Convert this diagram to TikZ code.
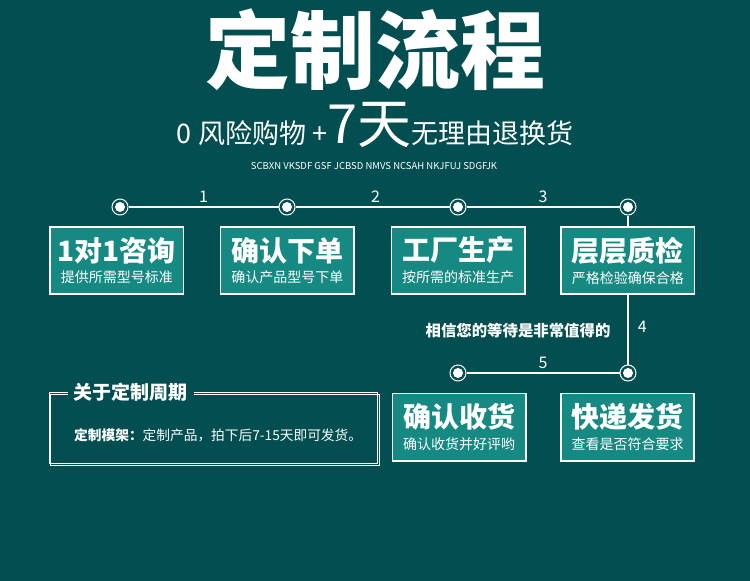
\documentclass[tikz,border=0pt]{standalone}
\usepackage{fontspec}
\newfontfamily\cjk{Noto Sans CJK SC}
\usetikzlibrary{positioning}
\definecolor{bgteal}{RGB}{3,78,80}
\definecolor{boxteal}{RGB}{22,137,130}
\tikzset{
  station/.style={circle,draw=white,line width=1pt,minimum size=16pt,inner sep=0pt,
    path picture={\fill[white] (path picture bounding box.center) circle (5pt);}},
  stepbox/.style={rectangle,fill=boxteal,draw=white,line width=1.6pt,
    minimum width=133.4pt,minimum height=67.4pt,align=center,text=white},
  num/.style={font=\cjk\fontsize{16}{16}\selectfont,text=white,inner sep=0pt},
  track/.style={white,line width=1.5pt}
}
\begin{document}
\begin{tikzpicture}[x=1pt,y=-1pt,font=\cjk]
    \useasboundingbox[fill=bgteal] (0,0) rectangle (750,581);
    % heading
    \node[text=white,font=\cjk\bfseries\fontsize{85}{85}\selectfont] (title) at (375,50) {定制流程};
    \node[text=white,anchor=base,inner sep=0pt] (slogan) at (375,143)
        {{\fontsize{27}{27}\selectfont 0 风险购物 +}{\fontsize{54}{54}\selectfont 7天}{\fontsize{27}{27}\selectfont 无理由退换货}};
    \node[text=white,font=\cjk\fontsize{9.5}{9.5}\selectfont] (tag) at (374,166) {SCBXN VKSDF GSF JCBSD NMVS NCSAH NKJFUJ SDGFJK};
    % stations
    \node[station] (d1) at (120,207) {};
    \node[station] (d2) at (287,207) {};
    \node[station] (d3) at (458,207) {};
    \node[station] (d4) at (628,207) {};
    \node[station] (d5) at (458,373) {};
    \node[station] (d6) at (628,373) {};
    \draw[track] (d1) to node[num,above=4pt]{1} (d2);
    \draw[track] (d2) to node[num,above=4pt,pos=.52]{2} (d3);
    \draw[track] (d3) to node[num,above=4pt]{3} (d4);
    \draw[track] (d4) to node[num,right=9pt,pos=.75]{4} (d6);
    \draw[track] (d5) to node[num,above=4pt]{5} (d6);
    % steps
    \node[stepbox] (s1) at (116.8,260.5) {{\fontsize{28}{28}\selectfont\bfseries 1对1咨询}\\[6pt]{\fontsize{14}{14}\selectfont 提供所需型号标准}};
    \node[stepbox] (s2) at (287.3,260.5) {{\fontsize{28}{28}\selectfont\bfseries 确认下单}\\[6pt]{\fontsize{14}{14}\selectfont 确认产品型号下单}};
    \node[stepbox] (s3) at (458.2,260.5) {{\fontsize{28}{28}\selectfont\bfseries 工厂生产}\\[6pt]{\fontsize{14}{14}\selectfont 按所需的标准生产}};
    \node[stepbox] (s4) at (627.8,260.5) {{\fontsize{28}{28}\selectfont\bfseries 层层质检}\\[6pt]{\fontsize{14}{14}\selectfont 严格检验确保合格}};
    \node[stepbox] (s5) at (459.2,427.2) {{\fontsize{28}{28}\selectfont\bfseries 确认收货}\\[6pt]{\fontsize{14}{14}\selectfont 确认收货并好评哟}};
    \node[stepbox] (s6) at (627.5,427.2) {{\fontsize{28}{28}\selectfont\bfseries 快递发货}\\[6pt]{\fontsize{14}{14}\selectfont 查看是否符合要求}};
    \node[text=white,font=\cjk\bfseries\fontsize{15.4}{15.4}\selectfont] (wait) at (518,331) {相信您的等待是非常值得的};
    % cycle note
    \node[draw=white,line width=.8pt,minimum width=328pt,minimum height=71pt] (info) at (213.5,428.3) {};
    \draw[white,line width=.8pt] ([shift={(1.7,1.6)}]info.north west) rectangle ([shift={(1.7,1.6)}]info.south east);
    \node[fill=bgteal,text=white,inner xsep=6pt,font=\cjk\bfseries\fontsize{19}{19}\selectfont] (infotitle) at (130.5,392) {关于定制周期};
    \node[anchor=west,inner sep=0pt,text=white,font=\cjk\bfseries\fontsize{13.7}{13.7}\selectfont] (infotext) at (74,435)
        {定制模架：{\mdseries 定制产品，拍下后7-15天即可发货。}};
\end{tikzpicture}
\end{document}
